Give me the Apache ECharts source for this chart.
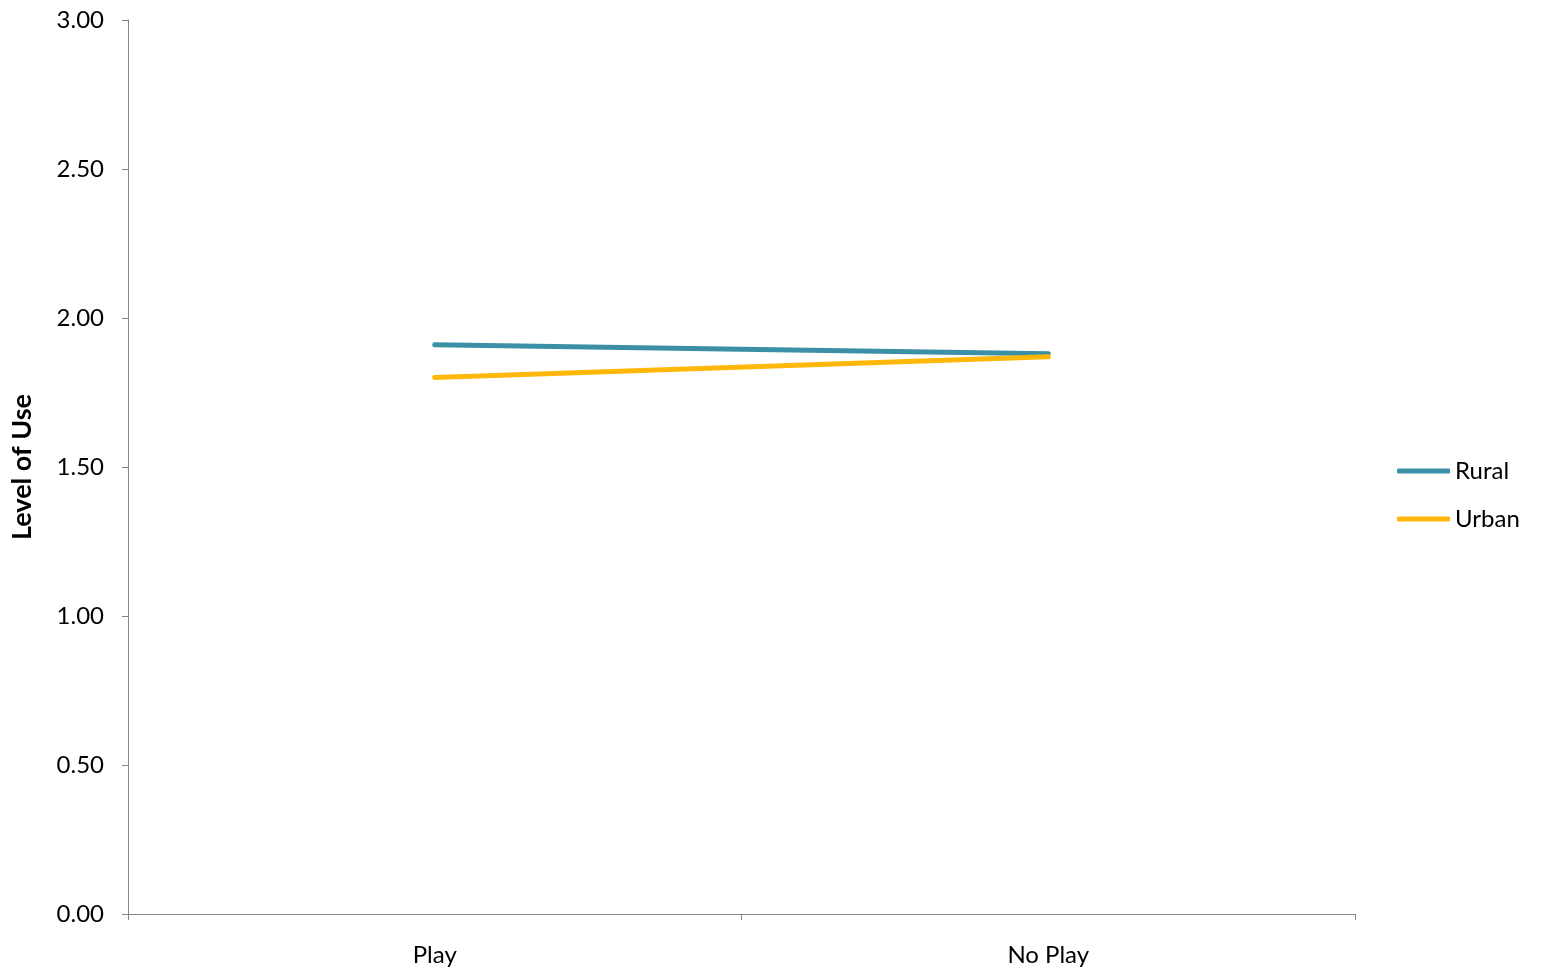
<!DOCTYPE html>
<html>
<head>
<meta charset="utf-8">
<script src="https://cdn.jsdelivr.net/npm/echarts@6/dist/echarts.min.js"></script>
<style>
html,body{margin:0;padding:0;background:#fff;}
#chart{width:1541px;height:973px;}
</style>
</head>
<body>
<div id="chart"></div>
<script>
// Mean level of use by play condition, split by location
const categories = ['Play', 'No Play'];
const seriesNames = ['Rural', 'Urban'];
const rural = [1.91, 1.88];
const urban = [1.80, 1.87];
const colors = ['#3B90A6', '#FFB80A'];

const FONT = 'Lato, "Open Sans", sans-serif';
const chart = echarts.init(document.getElementById('chart'));

const axisGray = '#868686';

chart.setOption({
  animation: false,
  backgroundColor: '#ffffff',
  color: colors,
  grid: { left: 128, right: 186, top: 20, bottom: 59 },
  legend: {
    orient: 'vertical',
    left: 1397,
    top: 459,
    padding: 0,
    itemWidth: 53,
    itemHeight: 5,
    itemGap: 24,
    icon: 'roundRect',
    data: seriesNames,
    textStyle: { fontFamily: FONT, fontSize: 24, color: '#000' }
  },
  xAxis: {
    type: 'category',
    data: categories,
    boundaryGap: true,
    axisLine: { lineStyle: { color: axisGray, width: 1 } },
    axisTick: { show: true, length: 6, lineStyle: { color: axisGray } },
    axisLabel: { fontFamily: FONT, fontSize: 24, color: '#000', margin: 29 },
    splitLine: { show: false }
  },
  yAxis: {
    type: 'value',
    min: 0,
    max: 3,
    interval: 0.5,
    name: 'Level of Use',
    nameLocation: 'middle',
    nameGap: 92,
    nameTextStyle: { fontFamily: FONT, fontSize: 27, fontWeight: 'bold', color: '#000' },
    axisLine: { show: true, lineStyle: { color: axisGray, width: 1 } },
    axisTick: { show: true, length: 6, lineStyle: { color: axisGray } },
    axisLabel: {
      fontFamily: FONT, fontSize: 24, color: '#000', margin: 24,
      formatter: v => v.toFixed(2)
    },
    splitLine: { show: false }
  },
  series: [
    {
      name: seriesNames[0], type: 'line', data: rural,
      symbol: 'none',
      lineStyle: { width: 5, color: colors[0], cap: 'round' },
      itemStyle: { color: colors[0] }
    },
    {
      name: seriesNames[1], type: 'line', data: urban,
      symbol: 'none',
      lineStyle: { width: 5, color: colors[1], cap: 'round' },
      itemStyle: { color: colors[1] }
    }
  ]
});
</script>
</body>
</html>
